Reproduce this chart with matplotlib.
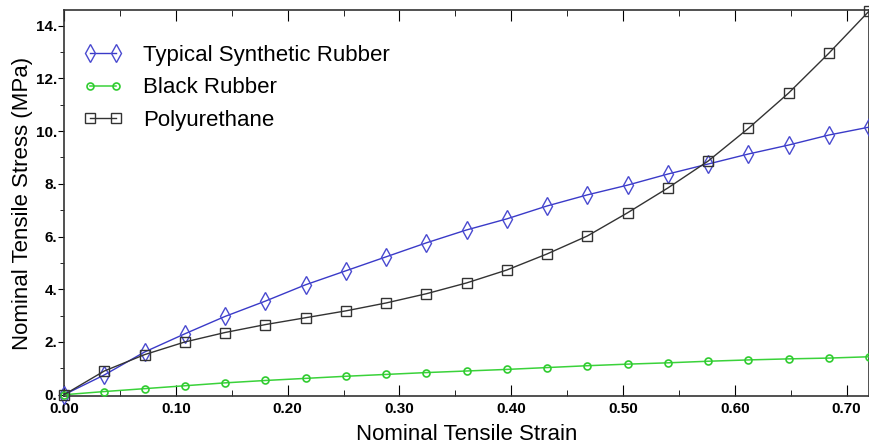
import numpy
import matplotlib
matplotlib.use('Agg')
import matplotlib.pyplot
import matplotlib.ticker

strain = [0.036 * i for i in range(21)]
synthetic = [0.0, 0.75, 1.62, 2.31, 2.97, 3.55, 4.17, 4.70, 5.23, 5.76, 6.25,
	6.67, 7.16, 7.58, 7.95, 8.37, 8.75, 9.13, 9.47, 9.85, 10.15]
black = [0.0, 0.12, 0.23, 0.34, 0.45, 0.54, 0.62, 0.70, 0.77, 0.84, 0.90,
	0.96, 1.03, 1.10, 1.16, 1.21, 1.27, 1.32, 1.36, 1.39, 1.44]
polyurethane = [0.0, 0.90, 1.52, 2.00, 2.36, 2.66, 2.92, 3.18, 3.48, 3.83, 4.24,
	4.73, 5.34, 6.02, 6.90, 7.84, 8.86, 10.10, 11.44, 12.95, 14.55]
labels = ['Typical Synthetic Rubber', 'Black Rubber', 'Polyurethane']

matplotlib.rcParams['font.family'] = ['Liberation Sans', 'DejaVu Sans']

fig = matplotlib.pyplot.figure(figsize = (8.69, 4.47), dpi = 100)
ax = fig.add_axes([0.0737, 0.114, 0.9263, 0.864])

ax.plot(strain, synthetic, marker = 'd', color = '#3a3ac8', markerfacecolor = 'none',
	markeredgecolor = '#4a4ad0', markersize = 9, markeredgewidth = 1.0, linewidth = 1.0,
	label = labels[0], clip_on = False, zorder = 3)
ax.plot(strain, black, marker = 'o', color = '#3ad23a', markerfacecolor = 'none',
	markeredgecolor = '#30cc30', markersize = 5, markeredgewidth = 1.2, linewidth = 1.1,
	label = labels[1], clip_on = False, zorder = 3)
ax.plot(strain, polyurethane, marker = 's', color = '#333333', markerfacecolor = 'none',
	markeredgecolor = '#333333', markersize = 6.5, markeredgewidth = 1.0, linewidth = 1.0,
	label = labels[2], clip_on = False, zorder = 3)

ax.set_xlim(0, 0.72)
ax.set_ylim(-0.05, 14.6)
ax.xaxis.set_major_locator(matplotlib.ticker.MultipleLocator(0.1))
ax.xaxis.set_minor_locator(matplotlib.ticker.MultipleLocator(0.05))
ax.yaxis.set_major_locator(matplotlib.ticker.MultipleLocator(2))
ax.yaxis.set_minor_locator(matplotlib.ticker.MultipleLocator(1))
ax.xaxis.set_major_formatter(matplotlib.ticker.FormatStrFormatter('%.2f'))
ax.yaxis.set_major_formatter(matplotlib.ticker.FuncFormatter(lambda v, pos: '%d.' % round(v)))

ax.tick_params(axis = 'x', which = 'both', direction = 'in', top = True, labelsize = 11, pad = 4)
ax.tick_params(axis = 'x', which = 'major', length = 8)
ax.tick_params(axis = 'x', which = 'minor', length = 4)
ax.tick_params(axis = 'y', which = 'both', direction = 'out', right = True, labelsize = 11, pad = 1)
ax.tick_params(axis = 'y', which = 'major', length = 4)
ax.tick_params(axis = 'y', which = 'minor', length = 3)
for t in ax.get_xticklabels() + ax.get_yticklabels():
	t.set_fontweight('bold')
for spine in ax.spines.values():
	spine.set_linewidth(1.2)
	spine.set_color('#333333')

ax.set_xlabel('Nominal Tensile Strain', fontsize = 16, labelpad = 6)
ax.set_ylabel('Nominal Tensile Stress (MPa)', fontsize = 16)
ax.yaxis.set_label_coords(-0.039, 0.5)

ax.legend(loc = 'upper left', frameon = False, fontsize = 16, numpoints = 2,
	handlelength = 1.8, handletextpad = 0.9, labelspacing = 0.51,
	bbox_to_anchor = (0.0236, 0.909), borderaxespad = 0, borderpad = 0)

fig.savefig('out.png', dpi = 100)
